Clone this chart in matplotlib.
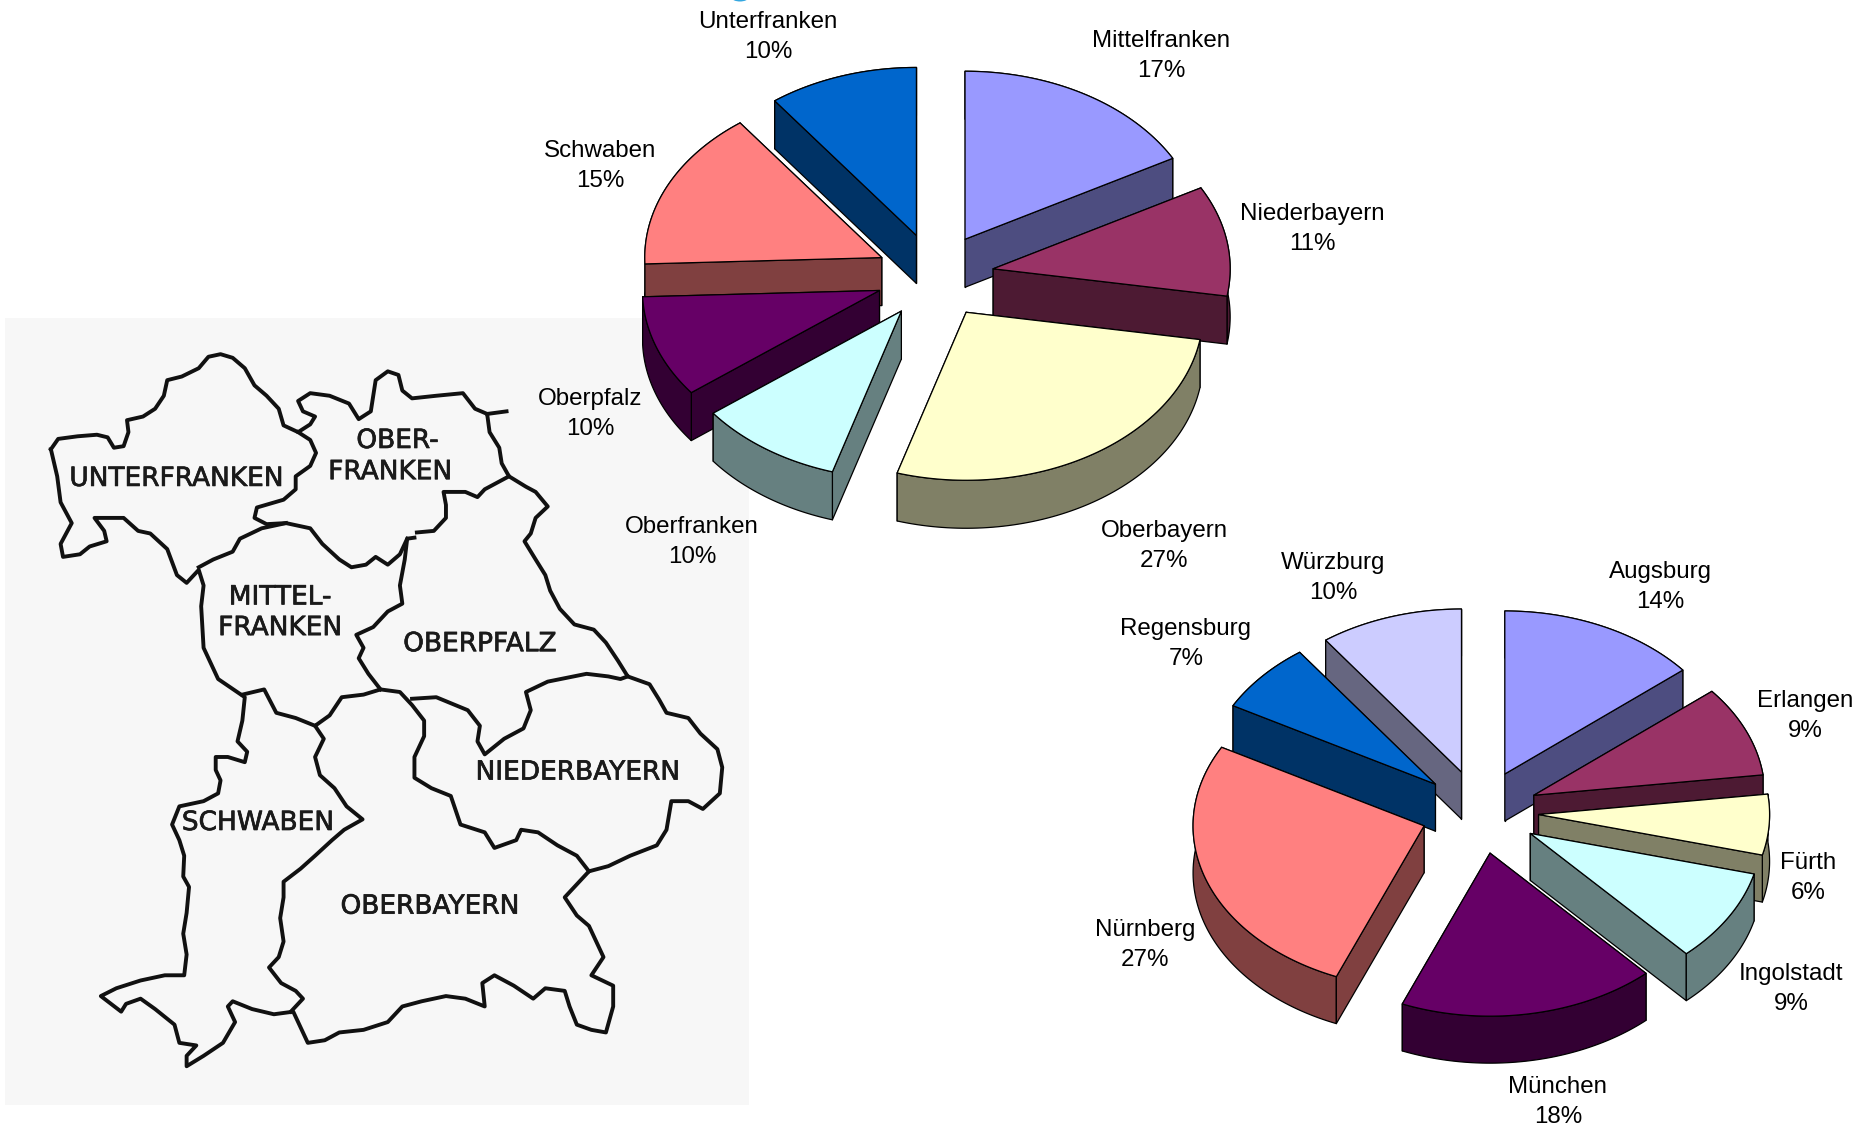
import numpy as np
import matplotlib
matplotlib.use("Agg")
import matplotlib.pyplot as plt
import matplotlib.patheffects as pe
from matplotlib.patches import Polygon, Rectangle, Ellipse

plt.rcParams['font.family'] = ['Liberation Sans', 'DejaVu Sans']

# regions pie
regions = ["Mittelfranken", "Niederbayern", "Oberbayern", "Oberfranken",
           "Oberpfalz", "Schwaben", "Unterfranken"]
region_values = [17.0, 10.6, 27.1, 9.9, 9.8, 15.4, 10.2]
region_colors = ["#9999FF", "#993366", "#FFFFCC", "#CCFFFF", "#660066", "#FF8080", "#0066CC"]
region_label_pos = [(1161, 56), (1312, 229), (1164, 546), (692, 542),
                    (590, 414), (600, 166), (768, 37)]

# cities pie
cities = ["Augsburg", "Erlangen", "Fürth", "Ingolstadt", "München",
          "Nürnberg", "Regensburg", "Würzburg"]
city_values = [14.0, 9.0, 6.0, 9.2, 18.0, 26.8, 7.0, 10.0]
city_colors = ["#9999FF", "#993366", "#FFFFCC", "#CCFFFF", "#660066", "#FF8080", "#0066CC", "#CCCCFF"]
city_label_pos = [(1660, 587), (1805, 716), (1808, 878), (1791, 989), (1558, 1102),
                  (1145, 945), (1186, 644), (1333, 578)]

# map borders
map_outer = [(105,268),(120,248),(160,243),(200,240),(222,245),(235,265),(255,262),(265,235),(262,212),
    (295,205),(320,190),(338,165),(345,135),(375,128),(410,112),(430,90),(455,85),(480,92),(505,112),
    (525,145),(550,165),(575,190),(585,222),(615,235),(640,220),(650,205),(625,195),(615,175),(640,160),
    (680,165),(720,180),(740,210),(765,195),(775,135),(800,118),(822,125),(830,155),(850,170),(900,165),
    (955,160),(980,190),(1005,200),(1010,235),(1030,265),(1035,295),(1050,320),(1085,340),(1105,350),
    (1130,378),(1105,400),(1095,430),(1082,445),(1105,480),(1125,510),(1135,540),(1155,575),(1185,605),
    (1225,615),(1250,640),(1275,675),(1295,705),(1340,720),(1360,750),(1375,775),(1420,785),(1445,815),
    (1480,845),(1490,880),(1485,930),(1450,960),(1420,945),(1385,945),(1375,1000),(1355,1030),(1300,1050),
    (1255,1070),(1215,1080),(1190,1105),(1165,1130),(1190,1165),(1215,1185),(1230,1215),(1245,1245),
    (1220,1280),(1265,1300),(1265,1340),(1250,1390),(1220,1385),(1190,1375),(1175,1340),(1165,1310),
    (1125,1305),(1100,1325),(1060,1300),(1020,1280),(995,1295),(1000,1340),(960,1325),(920,1320),
    (870,1330),(830,1340),(800,1370),(750,1385),(700,1390),(670,1405),(635,1410),(620,1380),(605,1350),
    (565,1355),(520,1345),(480,1330),(470,1340),(485,1370),(460,1410),(420,1435),(385,1455),(385,1435),
    (405,1415),(370,1410),(360,1375),(320,1345),(290,1325),(260,1335),(250,1350),(208,1320),(240,1305),
    (290,1290),(340,1280),(380,1280),(385,1240),(378,1200),(385,1160),(390,1110),(378,1090),(380,1050),
    (370,1020),(355,990),(370,955),(420,945),(450,930),(455,905),(445,885),(445,860),(470,860),(505,870),
    (510,850),(490,830),(500,790),(505,745),(450,710),(420,650),(415,570),(420,530),(410,500),(385,525),
    (365,510),(345,460),(310,430),(285,425),(255,400),(195,400),(215,425),(220,445),(185,455),(165,470),
    (130,475),(125,450),(148,410),(125,370),(118,320),(108,280),(105,268)]
map_inner = [
    [(1005,200),(1045,195)],
    [(615,235),(640,250),(652,275),(640,300),(610,320),(610,345),(585,365),(530,380),(525,400),(550,412),
     (590,410),(640,420),(665,450),(700,480),(725,495),(755,490),(775,475),(800,490),(825,470),(840,440)],
    [(410,495),(440,480),(480,465),(495,440),(540,420),(590,410)],
    [(1050,320),(1030,330),(1000,345),(985,360),(960,350),(915,350),(920,375),(920,400),(895,425),(860,428)],
    [(855,438),(840,440),(835,480),(825,530),(830,565),(800,580),(770,610),(735,625),(750,650),(740,670),
     (760,700),(785,730)],
    [(500,740),(545,730),(570,775),(610,785),(650,800),(680,780),(705,745),(750,740),(785,730),(825,735),
     (850,760),(875,790),(875,820),(855,860),(855,900),(890,920),(930,935),(950,990),(1000,1005),(1020,1035),
     (1065,1020),(1075,1000),(1110,1005),(1150,1030),(1190,1050),(1215,1080)],
    [(850,748),(900,745),(965,770),(990,800),(985,830),(1000,855),(1040,825),(1080,805),(1095,770),(1085,735),
     (1130,715),(1210,700),(1255,705),(1280,710),(1295,705)],
    [(650,800),(668,825),(650,860),(660,895),(690,920),(715,955),(748,980),(710,1000),(685,1020),(650,1050),
     (620,1075),(585,1100),(585,1130),(578,1170),(585,1215),(575,1245),(555,1265),(580,1295),(610,1310),
     (625,1325),(600,1350)],
]
map_labels = [("UNTERFRANKEN", 364, 325), ("OBER-", 820, 252), ("FRANKEN", 805, 312), ("MITTEL-", 578, 553),
              ("FRANKEN", 578, 612), ("OBERPFALZ", 990, 643), ("NIEDERBAYERN", 1192, 890),
              ("SCHWABEN", 532, 987), ("OBERBAYERN", 887, 1148)]


def map_xy(pts):
    # crop pixels back to figure pixels
    a = np.array(pts, dtype=float)
    return a[:, 0] / 2.063, 310 + a[:, 1] / 1.924


def darker(color):
    r, g, b = matplotlib.colors.to_rgb(color)
    return (r * 0.5, g * 0.5, b * 0.5)


def draw_pie(ax, values, colors, labels, label_pos, cx, cy, rx, ry, ex, ey, depth):
    total = sum(values)
    edges = np.cumsum([0] + list(values)) / total * 2 * np.pi
    slices = []
    for i in range(len(values)):
        t1, t2 = edges[i], edges[i + 1]
        mid = (t1 + t2) / 2
        ax0 = cx + ex * np.sin(mid)
        ay0 = cy - ey * np.cos(mid)
        slices.append((ay0, ax0, t1, t2, colors[i]))
    # back slices first
    for ay0, ax0, t1, t2, col in sorted(slices, key=lambda s: s[0]):
        t = np.linspace(t1, t2, 80)
        x = ax0 + rx * np.sin(t)
        y = ay0 - ry * np.cos(t)
        px = np.r_[ax0, x]
        py = np.r_[ay0, y]
        side = darker(col)
        faces = [
            [(ax0, ay0), (x[0], y[0]), (x[0], y[0] + depth), (ax0, ay0 + depth)],
            [(ax0, ay0), (x[-1], y[-1]), (x[-1], y[-1] + depth), (ax0, ay0 + depth)],
        ]
        arc = list(zip(x, y)) + list(zip(x[::-1], y[::-1] + depth))
        faces.append(arc)
        faces.sort(key=lambda f: np.mean([p[1] for p in f]))
        for f in faces:
            ax.add_patch(Polygon(f, closed=True, fc=side, ec='black', lw=0.9, joinstyle='round'))
        ax.add_patch(Polygon(np.c_[px, py], closed=True, fc=col, ec='black', lw=0.9, joinstyle='round'))
    for i, name in enumerate(labels):
        ax.text(label_pos[i][0], label_pos[i][1], f"{name}\n{values[i]:.0f}%", ha='center', va='center',
                fontsize=17.4, color='black', linespacing=1.45)


fig = plt.figure(figsize=(18.58, 11.25), dpi=100)
ax = fig.add_axes([0, 0, 1, 1])
ax.set_xlim(0, 1858)
ax.set_ylim(1125, 0)
ax.axis('off')

# scan background and borders
ax.add_patch(Rectangle((5, 318), 744, 787, fc='#F7F7F7', ec='none'))
mx, my = map_xy(map_outer)
ax.plot(mx, my, color='#111111', lw=2.8, solid_joinstyle='round')
for part in map_inner:
    mx, my = map_xy(part)
    ax.plot(mx, my, color='#111111', lw=2.8, solid_joinstyle='round')
for name, zx, zy in map_labels:
    t = ax.text(zx / 2.063, 310 + zy / 1.924, name, ha='center', va='center', fontsize=19,
                color='#1a1a1a', family='DejaVu Sans')
    t.set_path_effects([pe.withStroke(linewidth=0.5, foreground='#1a1a1a')])

# bit of a logo cut off at the top edge
ax.add_patch(Ellipse((740, -2), 16, 7, fc='#35A7E0', ec='none'))

draw_pie(ax, region_values, region_colors, regions, region_label_pos,
         935, 276, 237, 168, 59, 42.7, 48)
draw_pie(ax, city_values, city_colors, cities, city_label_pos,
         1479.7, 811.9, 231, 163, 59, 41.9, 47)

fig.savefig("out.png", dpi=100)
